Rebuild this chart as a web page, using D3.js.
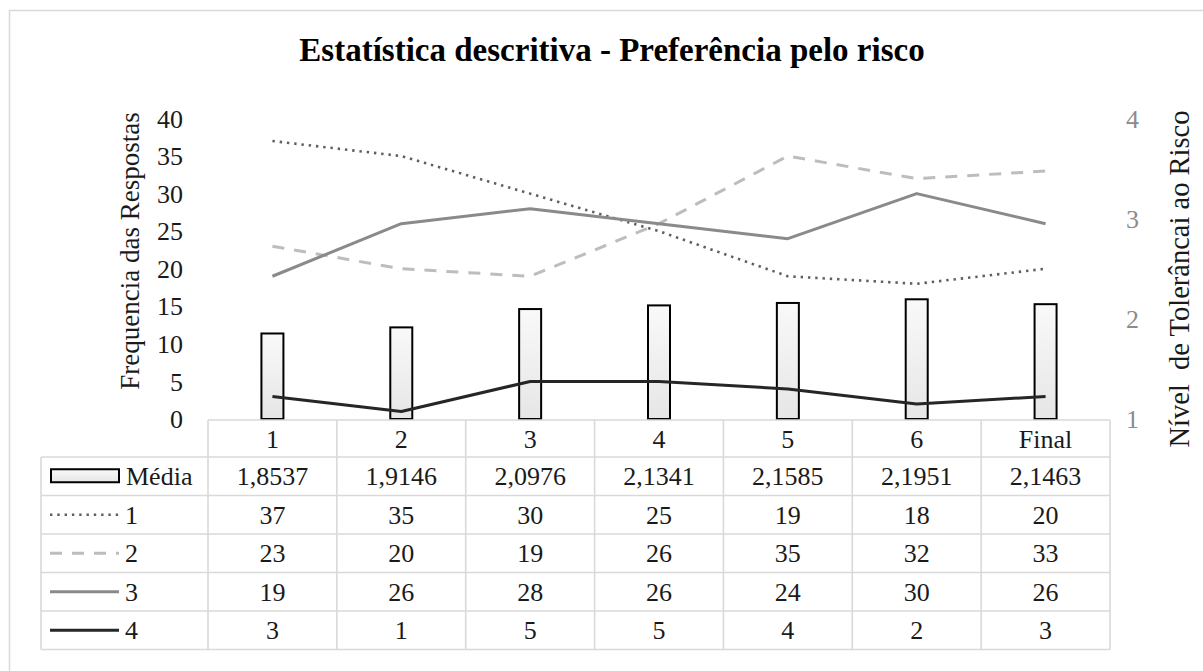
<!DOCTYPE html>
<html>
<head>
<meta charset="utf-8">
<script src="https://cdn.jsdelivr.net/npm/d3@7/dist/d3.min.js"></script>
<style>
  html, body { margin: 0; padding: 0; background: #fff; }
  svg { display: block; }
  svg text { font-family: "Liberation Serif", "Times New Roman", serif; white-space: pre; }
</style>
</head>
<body>
<svg id="chart" width="1203" height="671"></svg>
<script>
// Categories (rounds) and series
const categories = ["1", "2", "3", "4", "5", "6", "Final"];
const media = [1.8537, 1.9146, 2.0976, 2.1341, 2.1585, 2.1951, 2.1463];
const serie1 = [37, 35, 30, 25, 19, 18, 20];
const serie2 = [23, 20, 19, 26, 35, 32, 33];
const serie3 = [19, 26, 28, 26, 24, 30, 26];
const serie4 = [3, 1, 5, 5, 4, 2, 3];
const leftTicks = [0, 5, 10, 15, 20, 25, 30, 35, 40];
const rightTicks = [1, 2, 3, 4];

const titleText = "Estatística descritiva - Preferência pelo risco";
const leftTitle = "Frequencia das Respostas";
const rightTitle = "Nível  de Tolerâncai ao Risco";

const serif = "'Liberation Serif', 'Times New Roman', serif";

const lineSeries = [
  { name: "1", values: serie1, color: "#5f5f5f", dash: "2.4,4.9", width: 2.6 },
  { name: "2", values: serie2, color: "#bdbdbd", dash: "12,10", width: 3 },
  { name: "3", values: serie3, color: "#8a8a8a", dash: null, width: 3 },
  { name: "4", values: serie4, color: "#262626", dash: null, width: 3 }
];

const svg = d3.select("#chart");

// gradient for the bars
const defs = svg.append("defs");
const grad = defs.append("linearGradient").attr("id", "barFill")
  .attr("x1", 0).attr("y1", 0).attr("x2", 0).attr("y2", 1);
grad.append("stop").attr("offset", "0%").attr("stop-color", "#f9f9f9");
grad.append("stop").attr("offset", "100%").attr("stop-color", "#e6e6e6");

// outer frame
svg.append("rect")
  .attr("x", 9.5).attr("y", 10.5)
  .attr("width", 1200).attr("height", 670)
  .attr("fill", "#fff").attr("stroke", "#d9d9d9").attr("stroke-width", 1.5);

// title
svg.append("text")
  .attr("x", 612).attr("y", 61)
  .attr("text-anchor", "middle")
  .attr("font-family", serif)
  .attr("font-size", 33).attr("font-weight", "bold").attr("fill", "#000")
  .text(titleText);

// plot geometry
const plotLeft = 208, plotRight = 1110;
const plotTop = 118.5, plotBottom = 419;

const x = d3.scaleBand().domain(categories).range([plotLeft, plotRight]).paddingInner(0).paddingOuter(0);
const yL = d3.scaleLinear().domain([0, 40]).range([plotBottom, plotTop]);
const yR = d3.scaleLinear().domain([1, 4]).range([plotBottom, plotTop]);
const cx = c => x(c) + x.bandwidth() / 2;

// left axis
const leftAxis = d3.axisLeft(yL).tickValues(leftTicks).tickSize(0).tickPadding(0);
const gL = svg.append("g").attr("transform", "translate(183,0)").call(leftAxis)
  .attr("font-family", serif).attr("font-size", 26);
gL.select(".domain").remove();
gL.selectAll("text").attr("fill", "#1a1a1a").attr("dy", "0.33em");

// right axis
const rightAxis = d3.axisRight(yR).tickValues(rightTicks).tickFormat(d3.format("d")).tickSize(0).tickPadding(0);
const gR = svg.append("g").attr("transform", "translate(1126,0)").call(rightAxis)
  .attr("font-family", serif).attr("font-size", 26);
gR.select(".domain").remove();
gR.selectAll("text").attr("fill", "#8c8c8c").attr("dy", "0.33em");

// axis titles
svg.append("text")
  .attr("transform", "translate(139,251) rotate(-90)")
  .attr("text-anchor", "middle")
  .attr("font-family", serif)
  .attr("font-size", 27).attr("fill", "#1a1a1a")
  .text(leftTitle);
svg.append("text")
  .attr("transform", "translate(1189,279) rotate(-90)")
  .attr("text-anchor", "middle")
  .attr("font-family", serif)
  .attr("font-size", 28.5).attr("fill", "#1a1a1a")
  .text(rightTitle);

// bars (Média, right axis)
const barW = 22;
svg.append("g").selectAll("rect").data(media).join("rect")
  .attr("x", (d, i) => cx(categories[i]) - barW / 2)
  .attr("y", d => yR(d))
  .attr("width", barW)
  .attr("height", d => plotBottom - yR(d))
  .attr("fill", "url(#barFill)")
  .attr("stroke", "#000").attr("stroke-width", 2);

// lines (frequencies, left axis)
const line = d3.line().x((d, i) => cx(categories[i])).y(d => yL(d));
svg.append("g").selectAll("path").data(lineSeries).join("path")
  .attr("d", s => line(s.values))
  .attr("fill", "none")
  .attr("stroke", s => s.color)
  .attr("stroke-width", s => s.width)
  .attr("stroke-dasharray", s => s.dash)
  .attr("stroke-linejoin", "round");

// data table
const tableLeft = 41;
const headerTop = 420, headerBottom = 457;
const rowH = 38.5;
const rowCount = 5;
const rowY = i => headerBottom + i * rowH;
const tableBottom = rowY(rowCount);
const grid = svg.append("g").attr("stroke", "#d9d9d9").attr("stroke-width", 1.6).attr("fill", "none");

// horizontal rules
grid.append("line").attr("x1", plotLeft).attr("x2", plotRight).attr("y1", headerTop).attr("y2", headerTop);
d3.range(rowCount + 1).forEach(i => {
  grid.append("line").attr("x1", tableLeft).attr("x2", plotRight).attr("y1", rowY(i)).attr("y2", rowY(i));
});
// vertical rules
grid.append("line").attr("x1", tableLeft).attr("x2", tableLeft).attr("y1", headerBottom).attr("y2", tableBottom);
categories.forEach(c => {
  grid.append("line").attr("x1", x(c)).attr("x2", x(c)).attr("y1", headerTop).attr("y2", tableBottom);
});
grid.append("line").attr("x1", plotRight).attr("x2", plotRight).attr("y1", headerTop).attr("y2", tableBottom);

// header labels
svg.append("g").selectAll("text").data(categories).join("text")
  .attr("x", d => cx(d))
  .attr("y", (headerTop + headerBottom) / 2 + 9)
  .attr("text-anchor", "middle")
  .attr("font-family", serif)
  .attr("font-size", 26).attr("fill", "#1a1a1a")
  .text(d => d);

const fmtPt = d3.formatLocale({ decimal: ",", thousands: ".", grouping: [3], currency: ["R$", ""] });
const f4 = fmtPt.format(".4f");

const tableRows = [
  { label: "Média", values: media, fmt: f4, key: "bar" },
  ...lineSeries.map(s => ({ label: s.name, values: s.values, fmt: d3.format("d"), key: s }))
];

tableRows.forEach((r, ri) => {
  const yc = rowY(ri) + rowH / 2;
  const g = svg.append("g");
  g.selectAll("text.v").data(r.values).join("text")
    .attr("class", "v")
    .attr("x", (d, i) => cx(categories[i]))
    .attr("y", yc + 9)
    .attr("text-anchor", "middle")
    .attr("font-family", serif)
    .attr("font-size", 26).attr("fill", "#1a1a1a")
    .text(d => r.fmt(d));
  // legend key
  if (r.key === "bar") {
    g.append("rect")
      .attr("x", 51).attr("y", yc - 7).attr("width", 68).attr("height", 13)
      .attr("fill", "url(#barFill)").attr("stroke", "#000").attr("stroke-width", 2);
  } else {
    g.append("line")
      .attr("x1", 50).attr("x2", 119).attr("y1", yc).attr("y2", yc)
      .attr("stroke", r.key.color).attr("stroke-width", r.key.width)
      .attr("stroke-dasharray", r.key.dash);
  }
  g.append("text")
    .attr("x", r.key === "bar" ? 126 : 125)
    .attr("y", yc + 9)
    .attr("font-family", serif)
    .attr("font-size", 26).attr("fill", "#1a1a1a")
    .text(r.label);
});
</script>
</body>
</html>
